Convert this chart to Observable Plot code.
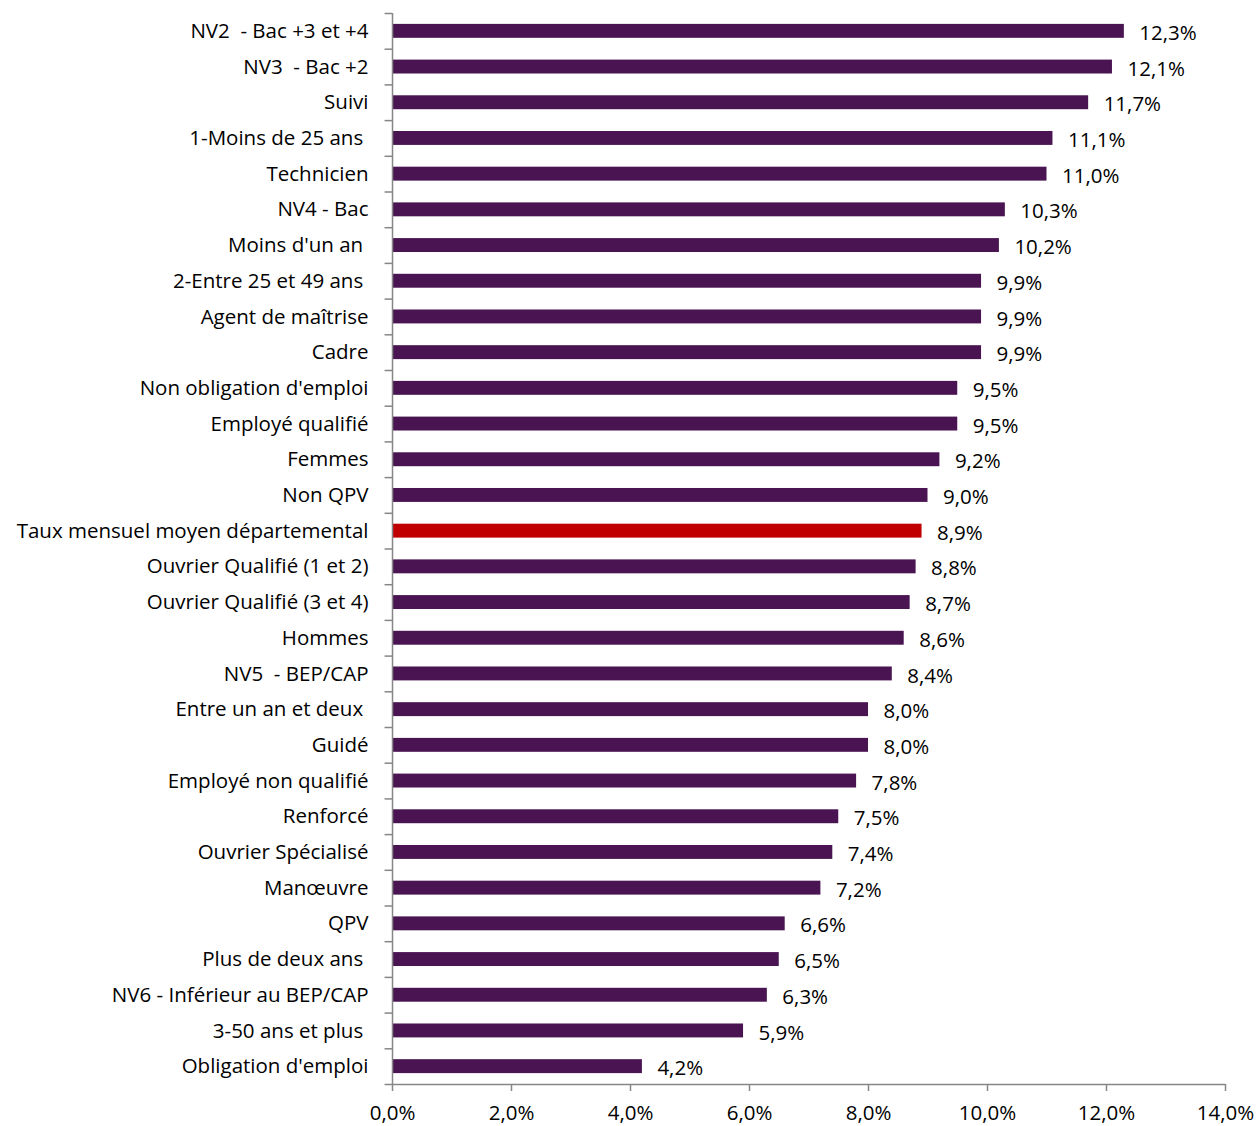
<!DOCTYPE html>
<html>
<head>
<meta charset="utf-8">
<script src="https://cdn.jsdelivr.net/npm/d3@7"></script>
<script src="https://cdn.jsdelivr.net/npm/@observablehq/plot@0.6"></script>
<style>
  body { margin: 0; background: #fff; }
  #chart svg { display: block; }
</style>
</head>
<body>
<div id="chart"></div>
<script>
const categories = [
  "NV2  - Bac +3 et +4",
  "NV3  - Bac +2",
  "Suivi",
  "1-Moins de 25 ans\u00a0",
  "Technicien",
  "NV4 - Bac",
  "Moins d'un an\u00a0",
  "2-Entre 25 et 49 ans\u00a0",
  "Agent de maîtrise",
  "Cadre",
  "Non obligation d'emploi",
  "Employé qualifié",
  "Femmes",
  "Non QPV",
  "Taux mensuel moyen départemental",
  "Ouvrier Qualifié (1 et 2)",
  "Ouvrier Qualifié (3 et 4)",
  "Hommes",
  "NV5  - BEP/CAP",
  "Entre un an et deux\u00a0",
  "Guidé",
  "Employé non qualifié",
  "Renforcé",
  "Ouvrier Spécialisé",
  "Manœuvre",
  "QPV",
  "Plus de deux ans\u00a0",
  "NV6 - Inférieur au BEP/CAP",
  "3-50 ans et plus\u00a0",
  "Obligation d'emploi"
];
const values = [12.3, 12.1, 11.7, 11.1, 11.0, 10.3, 10.2, 9.9, 9.9, 9.9, 9.5, 9.5, 9.2, 9.0, 8.9,
  8.8, 8.7, 8.6, 8.4, 8.0, 8.0, 7.8, 7.5, 7.4, 7.2, 6.6, 6.5, 6.3, 5.9, 4.2];
const highlight = "Taux mensuel moyen départemental";
const xTicks = [0, 2, 4, 6, 8, 10, 12, 14];

const data = categories.map((c, i) => ({cat: c, value: values[i]}));
const fmt = v => v.toFixed(1).replace(".", ",") + "%";

const W = 1259, H = 1126;
const mTop = 13, mBottom = 42;
const step = (H - mTop - mBottom) / categories.length;
const FS = 20.5;
const AX = "#868686";
const lastCat = categories[categories.length - 1];

const chart = Plot.plot({
  width: W,
  height: H,
  marginLeft: 392,
  marginRight: 34,
  marginTop: mTop,
  marginBottom: mBottom,
  style: {fontFamily: "'Open Sans', sans-serif", fontSize: FS + "px", color: "#000", background: "#fff"},
  x: {domain: [0, 14]},
  y: {domain: categories, paddingInner: 0.61, paddingOuter: 0.305, round: false},
  marks: [
    Plot.barX(data, {
      x: "value", y: "cat",
      fill: d => d.cat === highlight ? "#C00000" : "#4A1453"
    }),
    Plot.text(data, {
      x: "value", y: "cat", text: d => fmt(d.value),
      textAnchor: "start", dx: 15, dy: 2, fill: "#000", fontSize: FS
    }),
    // vertical axis line
    Plot.ruleX([0], {stroke: AX, strokeWidth: 1.5}),
    // category boundary ticks (between categories)
    Plot.ruleY(categories, {y: d => d, x1: -0.125, x2: 0, dy: -step / 2, stroke: AX, strokeWidth: 1.5}),
    Plot.ruleY([lastCat], {y: d => d, x1: -0.125, x2: 0, dy: step / 2, stroke: AX, strokeWidth: 1.5}),
    // bottom axis line
    Plot.ruleY([lastCat], {y: d => d, x1: 0, x2: 14, dy: step / 2, stroke: AX, strokeWidth: 1.5}),
    Plot.axisX({
      ticks: xTicks, tickFormat: d => d.toFixed(1).replace(".", ",") + "%",
      tickSize: 7, tickPadding: 14, stroke: AX, strokeWidth: 1.5, fontSize: FS, label: null
    }),
    Plot.axisY({tickSize: 0, tickPadding: 24, fontSize: FS, label: null})
  ]
});
document.getElementById("chart").appendChild(chart);
</script>
</body>
</html>
